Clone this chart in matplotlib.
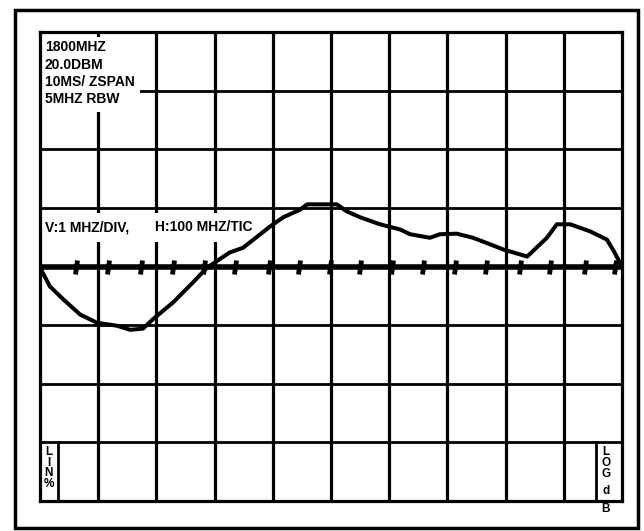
import matplotlib
matplotlib.use("Agg")
import matplotlib.pyplot as plt
from matplotlib.markers import MarkerStyle
from matplotlib.transforms import Affine2D
from matplotlib.patches import Rectangle

# ---------------------------------------------------------------- data
# trace, in divisions (x: 0..10, y: -4..4, centre = 0)
trace_x = [0.00, 0.17, 0.40, 0.69, 0.98, 1.32, 1.55, 1.77, 1.94, 2.29,
           2.63, 2.87, 3.26, 3.49, 3.95, 4.18, 4.47, 4.59, 5.10, 5.27,
           5.50, 5.84, 6.19, 6.36, 6.70, 6.87, 7.16, 7.44, 7.73, 7.96,
           8.37, 8.71, 8.88, 9.11, 9.45, 9.74, 9.86, 10.0]
trace_y = [-0.02, -0.34, -0.56, -0.82, -0.96, -1.01, -1.08, -1.06, -0.90, -0.61,
           -0.27, -0.02, 0.24, 0.32, 0.68, 0.84, 0.97, 1.06, 1.06, 0.94,
           0.84, 0.72, 0.63, 0.55, 0.49, 0.55, 0.56, 0.49, 0.38, 0.29,
           0.17, 0.49, 0.72, 0.72, 0.60, 0.46, 0.26, 0.00]

# 100 MHz tic marks on the centre line
tic_x = [0.62, 1.17, 1.74, 2.29, 2.82, 3.35, 3.93, 4.45, 4.98, 5.50,
         6.05, 6.58, 7.13, 7.66, 8.25, 8.76, 9.36, 9.88]

header_lines = ["1800MHZ", "20.0DBM", "10MS/ ZSPAN", "5MHZ RBW"]
v_label = "V:1 MHZ/DIV,"
h_label = "H:100 MHZ/TIC"
lin_letters = ["L", "I", "N", "%"]
log_letters = ["L", "O", "G"]
db_letters = ["d", "B"]

# ---------------------------------------------------------------- figure
fig = plt.figure(figsize=(6.44, 5.31), dpi=100)
ax = fig.add_axes([40/644, 30/531, 582/644, 469/531])
ax.set_xlim(0, 10)
ax.set_ylim(-4, 4)
ax.set_xticks([])
ax.set_yticks([])
for s in ax.spines.values():
  s.set_linewidth(2.3)
  s.set_zorder(3)

# graticule
for i in range(1, 10):
  ax.axvline(i, color="black", lw=2.3, zorder=1)
for j in range(-3, 4):
  if j == 0:
    continue
  ax.axhline(j, color="black", lw=2.0, zorder=1)
ax.axhline(0, color="black", lw=4.0, zorder=1)

# white blanks behind the annotation text
ax.add_patch(Rectangle((0.03, 2.63), 1.69, 1.28, fc="white", ec="none", zorder=2))
ax.add_patch(Rectangle((0.03, 0.41), 3.66, 0.51, fc="white", ec="none", zorder=2))

# tic marks
tic_marker = MarkerStyle("|", transform=Affine2D().rotate_deg(-10))
ax.plot(tic_x, [0]*len(tic_x), ls="none", marker=tic_marker, ms=10,
        mew=3.5, color="black", zorder=2.5)

# trace
ax.plot(trace_x, trace_y, color="black", lw=2.9, zorder=4,
        solid_joinstyle="round", solid_capstyle="round")

font = dict(family="Liberation Sans", weight="bold", color="black")
for k, line in enumerate(header_lines):
  ax.text(0.08, 3.74 - 0.296*k, line, fontsize=10, va="center", ha="left", zorder=5, **font)
ax.text(0.08, 0.67, v_label, fontsize=10, va="center", ha="left", zorder=5, **font)
ax.text(1.97, 0.67, h_label, fontsize=10, va="center", ha="left", zorder=5, **font)

# LIN % box
ax.plot([0.31, 0.31], [-3, -4], color="black", lw=2.0, zorder=3)
ax.text(0.15, -3.06, "\n".join(lin_letters), fontsize=8.5, va="top", ha="center",
        linespacing=0.85, zorder=5, **font)

# LOG dB box
ax.plot([9.55, 9.55], [-3, -4], color="black", lw=2.0, zorder=3)
ax.text(9.72, -3.07, "\n".join(log_letters), fontsize=8.5, va="top", ha="center",
        linespacing=0.85, zorder=5, **font)
ax.text(9.72, -3.72, "\n".join(db_letters), fontsize=8.5, va="top", ha="center",
        linespacing=1.75, zorder=5, clip_on=False, **font)

# outer frame of the screen
fig.add_artist(Rectangle((15/644, 3/531), 623/644, 518/531, transform=fig.transFigure,
                         fill=False, ec="black", lw=2.5))

fig.savefig("out.png", dpi=100)
